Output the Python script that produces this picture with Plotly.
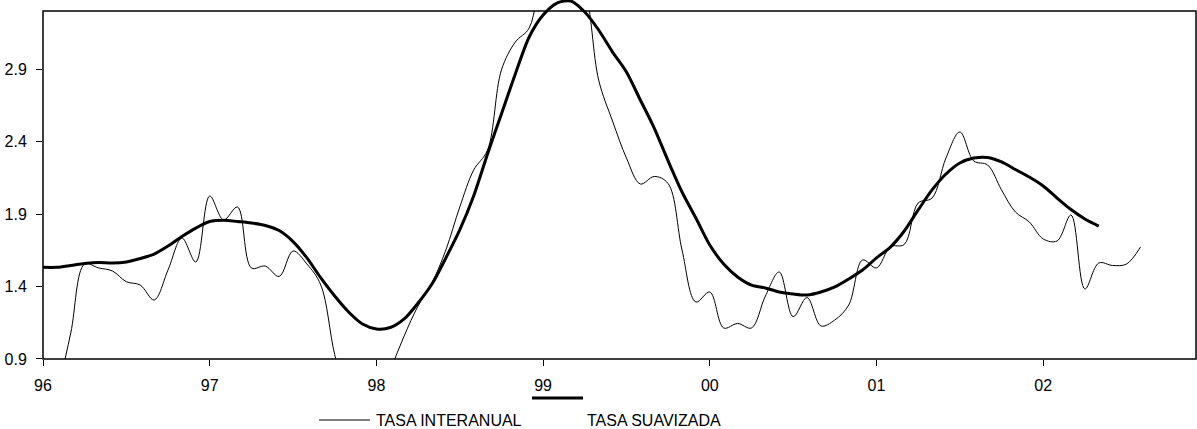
import plotly.graph_objects as go

# Month index (0 = Jan 1996)
interanual_months = list(range(1, 80))
interanual = [
    0.65, 1.08, 1.555, 1.528, 1.507, 1.433, 1.41, 1.307, 1.514, 1.734, 1.569,
    2.024, 1.859, 1.948, 1.528, 1.541, 1.469, 1.645, 1.555, 1.41, 0.93,
    0.6, 0.5, 0.55, 0.82, 1.059, 1.266, 1.424, 1.652, 1.948, 2.203,
    2.341, 2.893, 3.086, 3.183, 3.6, 3.75, 3.62, 3.45,
    2.824, 2.541, 2.286, 2.107, 2.159, 2.11, 1.652, 1.293, 1.362, 1.114,
    1.145, 1.114, 1.334, 1.50, 1.192, 1.324, 1.128, 1.169, 1.272, 1.583,
    1.528, 1.674, 1.69, 1.976, 2.01, 2.286, 2.466, 2.266, 2.238, 2.066,
    1.914, 1.845, 1.728, 1.714, 1.893, 1.383, 1.562, 1.545, 1.555, 1.672,
]

suavizada_months = list(range(0, 77))
suavizada = [
    1.532, 1.532, 1.545, 1.559, 1.566, 1.562, 1.569, 1.593, 1.624, 1.679,
    1.745, 1.803, 1.848, 1.857, 1.848, 1.838, 1.821, 1.786, 1.71, 1.597,
    1.459, 1.334, 1.224, 1.141, 1.107, 1.117, 1.176, 1.286, 1.417, 1.597,
    1.79, 2.024, 2.314, 2.59, 2.866, 3.121, 3.272, 3.355, 3.369, 3.293,
    3.169, 3.017, 2.879, 2.686, 2.493, 2.266, 2.052, 1.872, 1.686, 1.555,
    1.466, 1.41, 1.39, 1.362, 1.348, 1.341, 1.362, 1.397, 1.452, 1.514,
    1.597, 1.672, 1.783, 1.928, 2.066, 2.176, 2.252, 2.286, 2.29, 2.259,
    2.207, 2.155, 2.093, 2.01, 1.931, 1.866, 1.817,
]

x_tickvals = [0, 12, 24, 36, 48, 60, 72]
x_ticktext = ["96", "97", "98", "99", "00", "01", "02"]
y_tickvals = [0.9, 1.4, 1.9, 2.4, 2.9]
y_ticktext = ["0.9", "1.4", "1.9", "2.4", "2.9"]

FONT = "Liberation Sans, Arial, sans-serif"
FS = 16

y_min, y_frame_top, y_extra_top = 0.9, 3.3, 3.376
frame_frac = (y_frame_top - y_min) / (y_extra_top - y_min)

fig = go.Figure()
fig.add_trace(go.Scatter(
    x=interanual_months, y=interanual, mode="lines", name="TASA INTERANUAL",
    line=dict(color="black", width=1, shape="spline", smoothing=1),
    xaxis="x", yaxis="y", showlegend=False, hoverinfo="skip",
))
fig.add_trace(go.Scatter(
    x=suavizada_months, y=suavizada, mode="lines", name="TASA SUAVIZADA",
    line=dict(color="black", width=3, shape="spline", smoothing=0.8),
    xaxis="x", yaxis="y2", showlegend=False, hoverinfo="skip",
))

fig.update_layout(
    width=1197, height=429,
    margin=dict(l=43, r=1, t=0, b=70),
    paper_bgcolor="white", plot_bgcolor="rgba(0,0,0,0)",
    font=dict(family=FONT, size=FS, color="black"),
    xaxis=dict(
        range=[0, 83], tickvals=x_tickvals, ticktext=x_ticktext,
        showgrid=False, zeroline=False, showline=False,
        ticks="outside", ticklen=6, tickcolor="black", tickwidth=1,
        ticklabelstandoff=6, anchor="y", fixedrange=True,
    ),
    yaxis=dict(
        domain=[0, frame_frac], range=[y_min, y_frame_top],
        tickvals=y_tickvals, ticktext=y_ticktext,
        showgrid=False, zeroline=False, showline=False,
        ticks="outside", ticklen=6, tickcolor="black", tickwidth=1,
        ticklabelstandoff=6, anchor="x",
    ),
    yaxis2=dict(
        domain=[0, 1], range=[y_min, y_extra_top], anchor="x",
        visible=False, showgrid=False, zeroline=False,
    ),
    shapes=[
        dict(type="rect", xref="paper", yref="paper", x0=0, x1=1, y0=0, y1=frame_frac,
             line=dict(color="black", width=1.5), fillcolor="rgba(0,0,0,0)", layer="below"),
        # legend samples
        dict(type="line", xref="paper", yref="paper",
             x0=(319 - 43) / 1153, x1=(370 - 43) / 1153,
             y0=-(420 - 359) / 359, y1=-(420 - 359) / 359,
             line=dict(color="black", width=1)),
        dict(type="line", xref="paper", yref="paper",
             x0=(532 - 43) / 1153, x1=(583 - 43) / 1153,
             y0=-(398 - 359) / 359, y1=-(398 - 359) / 359,
             line=dict(color="black", width=3)),
    ],
    annotations=[
        dict(text="TASA INTERANUAL", xref="paper", yref="paper",
             x=(374 - 43) / 1153, y=-(420 - 359) / 359, xanchor="left", yanchor="middle",
             showarrow=False, font=dict(family=FONT, size=FS, color="black")),
        dict(text="TASA SUAVIZADA", xref="paper", yref="paper",
             x=(585 - 43) / 1153, y=-(420 - 359) / 359, xanchor="left", yanchor="middle",
             showarrow=False, font=dict(family=FONT, size=FS, color="black")),
    ],
)

fig.write_html(
    "out.html",
    config={"displayModeBar": False, "staticPlot": True},
    post_script="document.body.style.margin='0';document.body.style.overflow='hidden';",
)
